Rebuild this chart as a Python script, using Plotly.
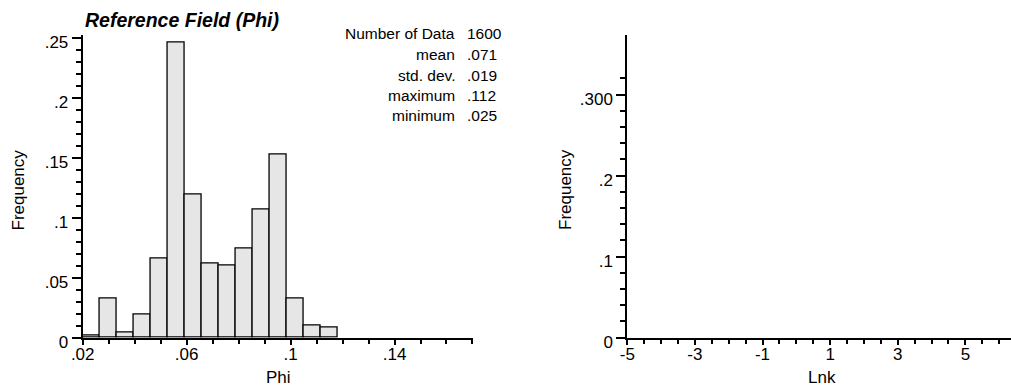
import plotly.graph_objects as go

# ---------------- data ----------------
phi_bin_centers = [0.023265, 0.029795, 0.036325, 0.042855, 0.049385, 0.055915, 0.062445,
                   0.068975, 0.075505, 0.082035, 0.088565, 0.095095, 0.101625, 0.108155, 0.114685]
phi_freq = [0.002, 0.0328, 0.0042, 0.0195, 0.0661, 0.2461, 0.1197,
            0.062, 0.0603, 0.0745, 0.1072, 0.1528, 0.0328, 0.0103, 0.0081]
phi_bin_width = 0.00653

stat_labels = ["Number of Data", "mean", "std. dev.", "maximum", "minimum"]
stat_values = ["1600", ".071", ".019", ".112", ".025"]

phi_xtick_vals = [0.02, 0.06, 0.10, 0.14]
phi_xtick_text = [".02", ".06", ".1", ".14"]
phi_ytick_vals = [0, 0.05, 0.10, 0.15, 0.20, 0.25]
phi_ytick_text = ["0", ".05", ".1", ".15", ".2", ".25"]

lnk_xtick_vals = [-5, -3, -1, 1, 3, 5]
lnk_xtick_text = ["-5", "-3", "-1", "1", "3", "5"]
lnk_ytick_vals = [0, 0.1, 0.2, 0.3]
lnk_ytick_text = ["0", ".1", ".2", ".300"]
lnk_yminor_vals = [0.02, 0.04, 0.06, 0.08, 0.12, 0.14, 0.16, 0.18, 0.22, 0.24, 0.26, 0.28, 0.32]

# ---------------- figure ----------------
W, H = 1011, 387
FONT = "Liberation Sans, Arial, sans-serif"

fig = go.Figure()
fig.add_trace(go.Bar(
    x=phi_bin_centers, y=phi_freq, width=phi_bin_width,
    marker=dict(color="#e6e6e6", line=dict(color="black", width=1.3)),
    xaxis="x", yaxis="y", showlegend=False, hoverinfo="skip"))

# empty trace for the right-hand panel
fig.add_trace(go.Scatter(x=[], y=[], xaxis="x2", yaxis="y2", showlegend=False))

def px(x):
    return x / W

def py(y):
    return 1 - y / H

ydom = [py(337.7), py(34.5)]

axis_common = dict(showline=True, linecolor="black", linewidth=2, ticks="outside",
                   tickcolor="black", tickwidth=1.5, showgrid=False, zeroline=False,
                   automargin=False,
                   tickfont=dict(family=FONT, size=17, color="black"), tickmode="array")
xstyle = dict(ticklabelstandoff=-5)
ystyle = dict(ticklabelstandoff=0, ticklabelshift=4)

fig.update_layout(
    width=W, height=H, autosize=False,
    margin=dict(l=0, r=0, t=0, b=0, pad=0),
    paper_bgcolor="white", plot_bgcolor="white",
    bargap=0,
    xaxis=dict(domain=[px(82.7), px(473)], range=[0.02, 0.1702], anchor="y",
               tickvals=phi_xtick_vals, ticktext=phi_xtick_text, ticklen=5,
               minor=dict(dtick=0.01, tick0=0.0, ticks="outside", ticklen=4, tickcolor="black", tickwidth=1.5),
               **axis_common, **xstyle),
    yaxis=dict(domain=ydom, range=[0, 0.2526], anchor="x",
               tickvals=phi_ytick_vals, ticktext=phi_ytick_text, ticklen=9,
               minor=dict(dtick=0.01, tick0=0.0, ticks="outside", ticklen=5, tickcolor="black", tickwidth=1.5),
               **axis_common, **ystyle),
    xaxis2=dict(domain=[px(627.3), 1.0], range=[-5, 6.35], anchor="y2",
                tickvals=lnk_xtick_vals, ticktext=lnk_xtick_text, ticklen=5,
                minor=dict(dtick=0.5, tick0=0, ticks="outside", ticklen=4, tickcolor="black", tickwidth=1.5),
                **axis_common, **xstyle),
    yaxis2=dict(domain=ydom, range=[0, 0.3742], anchor="x2",
                tickvals=lnk_ytick_vals, ticktext=lnk_ytick_text, ticklen=9,
                minor=dict(tickmode="array", tickvals=lnk_yminor_vals, ticks="outside", ticklen=5,
                           tickcolor="black", tickwidth=1.5),
                **axis_common, **ystyle),
)

ann = []
# title
ann.append(dict(x=px(83), y=py(20), xref="paper", yref="paper", xanchor="left", yanchor="middle",
                text="<b><i>Reference Field (Phi)</i></b>", showarrow=False,
                font=dict(family=FONT, size=19.5, color="black")))
# stats
row_y = [33.3, 54.3, 75.3, 95.7, 115.7]
for lab, val, yy in zip(stat_labels, stat_values, row_y):
    ann.append(dict(x=px(457), y=py(yy), xref="paper", yref="paper", xanchor="right", yanchor="middle",
                    text=lab, showarrow=False, font=dict(family=FONT, size=15.5, color="black")))
    ann.append(dict(x=px(465), y=py(yy), xref="paper", yref="paper", xanchor="left", yanchor="middle",
                    text=val, showarrow=False, font=dict(family=FONT, size=15.5, color="black")))
# axis titles
ann.append(dict(x=px(278), y=py(377), xref="paper", yref="paper", xanchor="center", yanchor="middle",
                text="Phi", showarrow=False, font=dict(family=FONT, size=17, color="black")))
ann.append(dict(x=px(822), y=py(377), xref="paper", yref="paper", xanchor="center", yanchor="middle",
                text="Lnk", showarrow=False, font=dict(family=FONT, size=17, color="black")))
ann.append(dict(x=px(17.5), y=py(190), xref="paper", yref="paper", xanchor="center", yanchor="middle",
                text="Frequency", textangle=-90, showarrow=False, font=dict(family=FONT, size=17, color="black")))
ann.append(dict(x=px(565), y=py(190), xref="paper", yref="paper", xanchor="center", yanchor="middle",
                text="Frequency", textangle=-90, showarrow=False, font=dict(family=FONT, size=17, color="black")))
fig.update_layout(annotations=ann)

fig.write_html("out.html")
